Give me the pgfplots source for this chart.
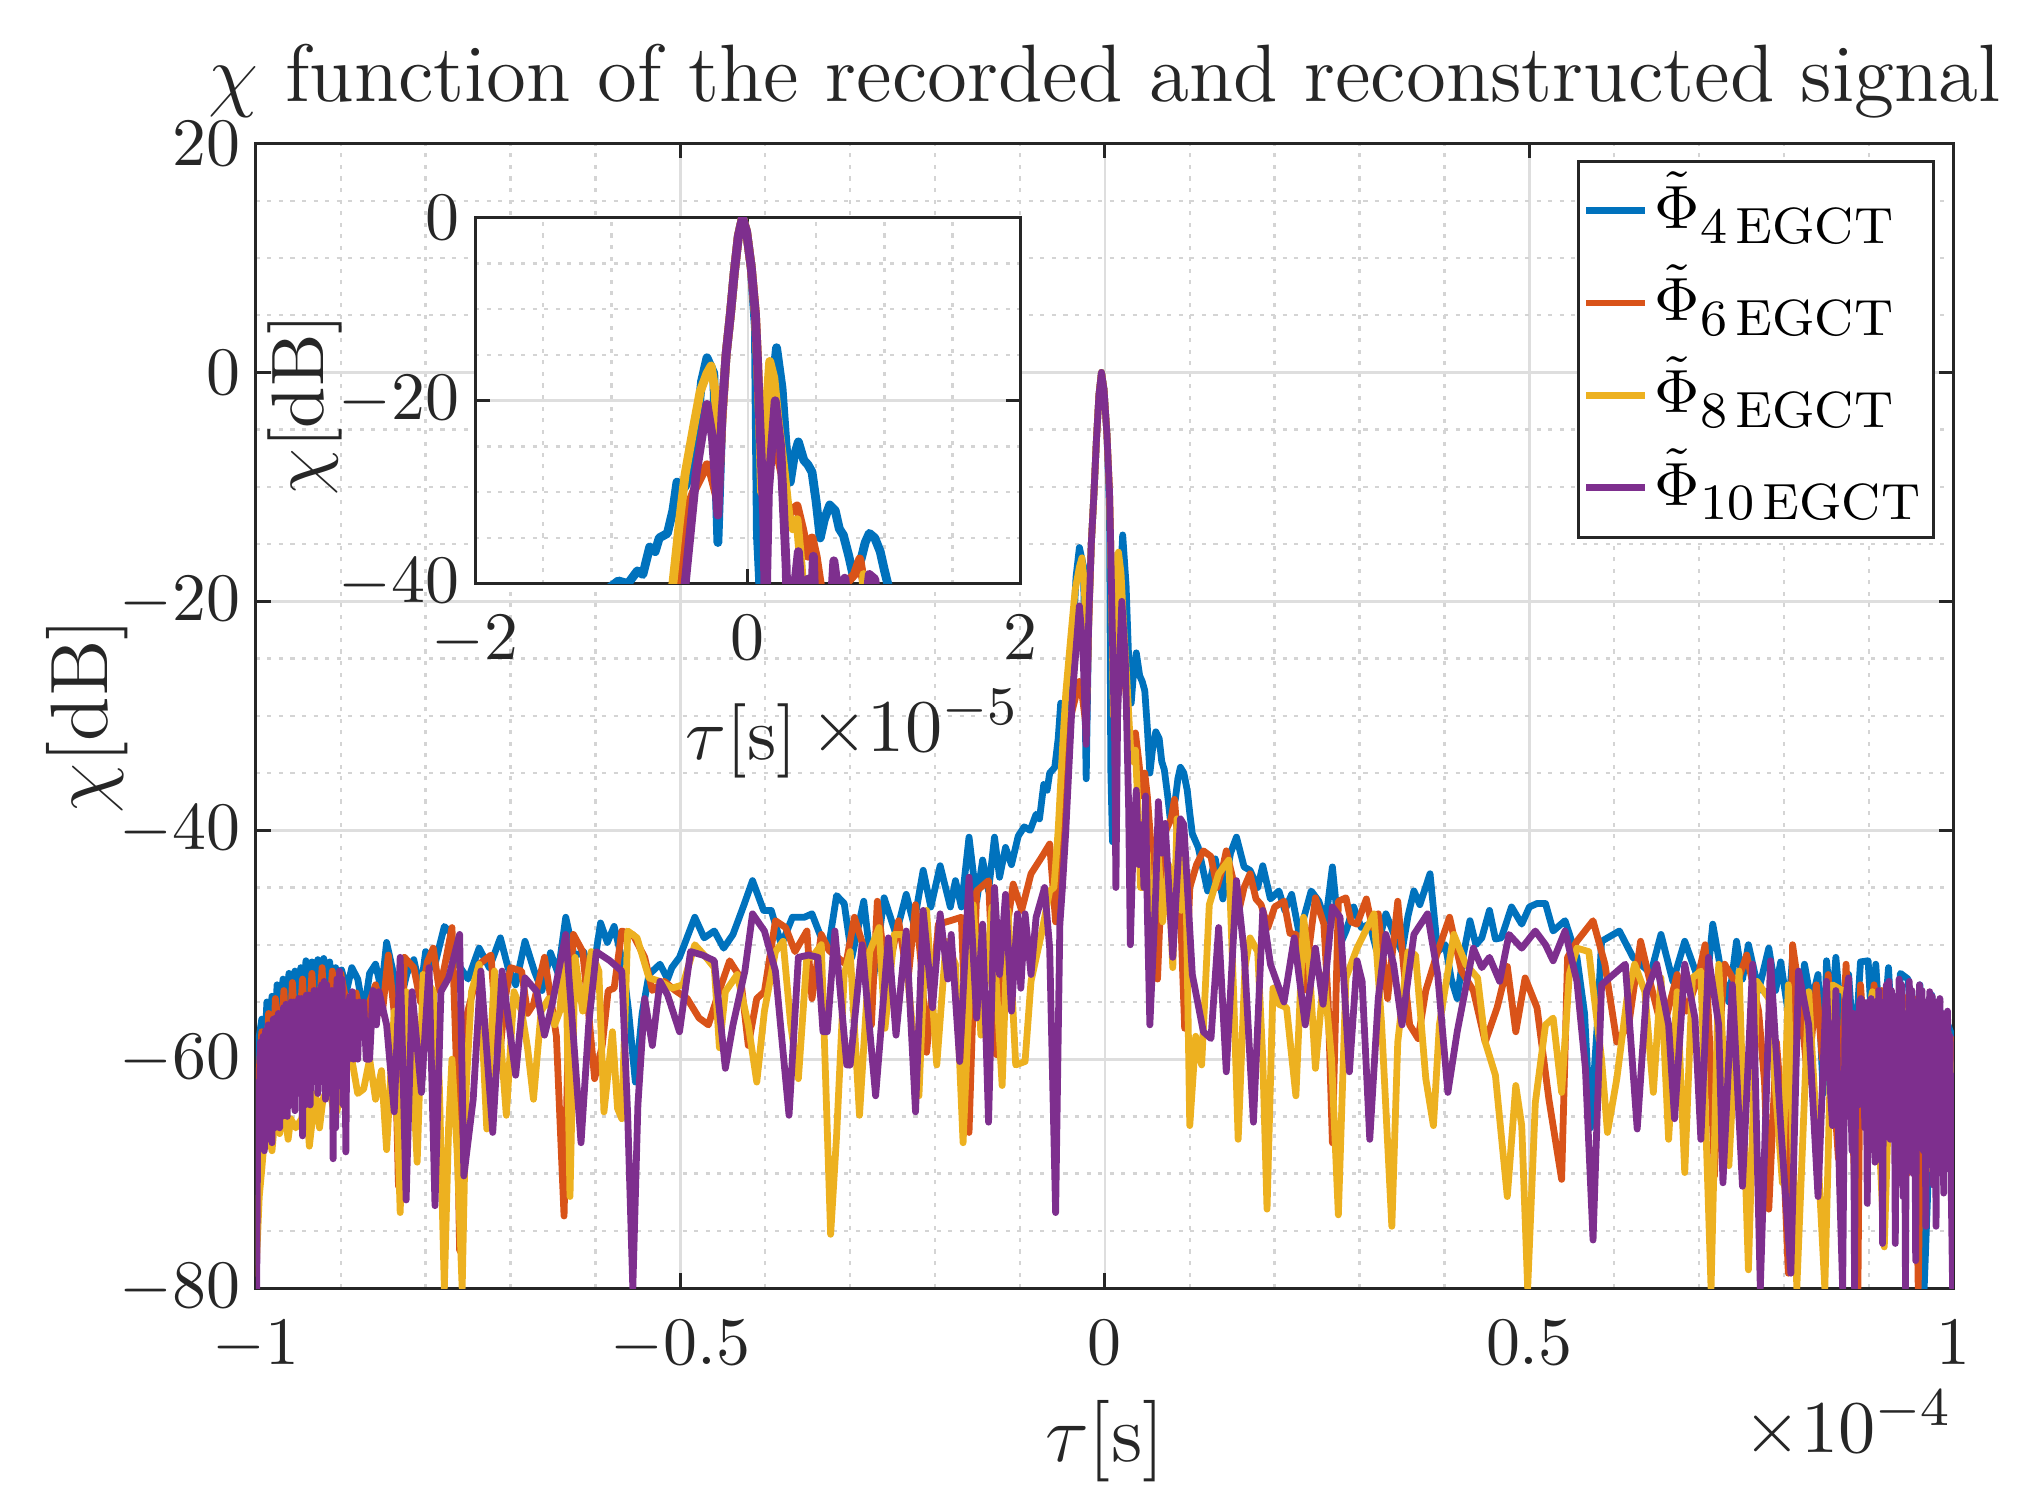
\documentclass[border=0pt]{standalone}
\usepackage{fontspec}
\usepackage{pgfplots}
\usepackage{pgfplotstable}
\pgfplotsset{compat=1.18}
\definecolor{mblue}{rgb}{0,0.447,0.741}
\definecolor{morange}{rgb}{0.850,0.325,0.098}
\definecolor{myellow}{rgb}{0.929,0.694,0.125}
\definecolor{mpurple}{rgb}{0.494,0.184,0.556}
\definecolor{axcol}{gray}{0.15}
\definecolor{gmaj}{gray}{0.87}
\definecolor{gmin}{gray}{0.83}

% x in units of 1e-4 s, y in dB
\pgfplotstableread{
x y
-1.000 -78
-0.998 -74
-0.996 -58
-0.993 -56.5
-0.990 -60
-0.987 -55
-0.984 -58
-0.981 -54.5
-0.978 -58
-0.975 -53.5
-0.972 -57
-0.968 -53
-0.965 -56.5
-0.961 -52.5
-0.958 -56
-0.954 -52.3
-0.951 -56
-0.947 -52
-0.944 -55
-0.941 -51.4
-0.938 -55
-0.934 -51.5
-0.931 -54.5
-0.927 -51.3
-0.924 -54
-0.920 -51.2
-0.917 -54.5
-0.913 -51.5
-0.910 -55
-0.906 -52
-0.903 -55
-0.899 -52.2
-0.893 -54
-0.887 -52
-0.880 -53
-0.873 -56
-0.866 -52.5
-0.859 -51.7
-0.852 -54
-0.846 -49.8
-0.838 -52.5
-0.830 -55
-0.822 -52.5
-0.814 -51.3
-0.806 -54
-0.800 -50.6
-0.790 -52
-0.778 -48.4
-0.770 -49
-0.762 -51.7
-0.750 -53
-0.737 -50.3
-0.725 -52
-0.712 -49.4
-0.703 -52
-0.694 -53.5
-0.683 -49.7
-0.672 -52.3
-0.663 -54
-0.653 -50.7
-0.644 -52.5
-0.635 -47.6
-0.625 -51
-0.614 -50.6
-0.604 -53
-0.594 -48.1
-0.586 -49.8
-0.578 -48.4
-0.568 -51.5
-0.561 -55.8
-0.553 -62
-0.545 -56
-0.537 -52.6
-0.524 -51.7
-0.515 -53
-0.510 -52
-0.501 -51.1
-0.483 -47.6
-0.472 -49.4
-0.460 -48.8
-0.449 -50.3
-0.438 -49.1
-0.425 -46.5
-0.415 -44.4
-0.402 -47
-0.393 -47
-0.381 -50
-0.368 -47.6
-0.354 -47.6
-0.345 -47.3
-0.334 -49.4
-0.325 -50
-0.316 -45.7
-0.307 -46.4
-0.298 -51.1
-0.284 -46.2
-0.273 -53.2
-0.260 -45.9
-0.246 -49.1
-0.234 -45.6
-0.225 -48.2
-0.214 -43.5
-0.205 -46.7
-0.194 -43.1
-0.182 -46.7
-0.176 -44.4
-0.169 -46.7
-0.160 -40.6
-0.151 -46.2
-0.144 -42.6
-0.137 -45.3
-0.130 -40.6
-0.124 -44.1
-0.117 -41.5
-0.110 -43
-0.102 -40.5
-0.095 -39.7
-0.088 -40
-0.081 -38.6
-0.077 -39
-0.072 -36
-0.068 -36.5
-0.065 -35
-0.059 -34.5
-0.055 -32
-0.052 -28.9
-0.048 -29.6
-0.046 -29.4
-0.042 -27.8
-0.038 -24
-0.034 -17.9
-0.030 -15.3
-0.025 -17
-0.0235 -28
-0.022 -35.5
-0.020 -26
-0.019 -21.5
-0.016 -15
-0.0128 -10.5
-0.010 -6
-0.007 -2
-0.004 0
-0.001 -1.5
0.0025 -5.5
0.0055 -12
0.007 -34.7
0.009 -41
0.012 -35
0.016 -21.5
0.021 -14.2
0.025 -18.6
0.028 -25
0.031 -28.9
0.034 -26
0.037 -24.5
0.041 -26.5
0.044 -27
0.047 -27.8
0.050 -31
0.053 -35
0.056 -33
0.060 -31.4
0.064 -32
0.067 -34
0.070 -34.7
0.074 -37
0.077 -39
0.080 -38
0.083 -37.3
0.086 -35.5
0.089 -34.5
0.093 -35
0.097 -36.5
0.100 -38.5
0.103 -40.3
0.110 -41.5
0.121 -45.3
0.130 -42.5
0.139 -46
0.148 -42
0.155 -40.6
0.164 -43.2
0.171 -43.5
0.180 -45
0.186 -43.1
0.195 -46
0.205 -45.3
0.212 -47
0.220 -45.6
0.229 -49.1
0.243 -45.3
0.252 -46.2
0.260 -48
0.268 -43.2
0.277 -50
0.284 -48.8
0.293 -46.7
0.302 -48.5
0.312 -48.2
0.320 -50.5
0.331 -47.3
0.340 -49
0.350 -50.6
0.357 -47.5
0.364 -45.3
0.371 -46.5
0.383 -43.8
0.392 -50.6
0.401 -50
0.408 -53
0.415 -54.7
0.422 -51
0.430 -47.9
0.437 -50
0.444 -49.4
0.453 -47
0.460 -49.5
0.467 -49.4
0.479 -46.7
0.491 -48.2
0.500 -46.7
0.509 -46.4
0.519 -46.4
0.528 -48.8
0.542 -47.9
0.556 -51.1
0.565 -56
0.572 -66
0.580 -57
0.585 -49.7
0.599 -49.1
0.606 -48.8
0.622 -51.1
0.631 -51.7
0.643 -52.5
0.655 -49.1
0.669 -53.2
0.683 -49.7
0.697 -52.6
0.707 -55
0.716 -48.2
0.725 -52
0.735 -55
0.744 -49.7
0.751 -53
0.758 -50
0.770 -54
0.782 -50.3
0.790 -54
0.796 -51.5
0.805 -56
0.810 -51.1
0.818 -58
0.824 -51.7
0.832 -55
0.840 -52.6
0.846 -63
0.850 -51.4
0.856 -56
0.861 -51.1
0.868 -57
0.876 -52.6
0.883 -60
0.890 -51.5
0.899 -51.4
0.904 -58
0.908 -51.7
0.915 -60
0.923 -52
0.930 -62
0.937 -52.5
0.946 -53
0.953 -60
0.960 -53.5
0.965 -80
0.969 -72
0.974 -54.4
0.979 -66
0.984 -55.8
0.988 -64
0.993 -57
0.998 -58
1.000 -57.5
}\tblA

\pgfplotstableread{
x y
-1.000 -79
-0.997 -62
-0.993 -57.6
-0.989 -64
-0.985 -56
-0.981 -63
-0.977 -54.7
-0.972 -61
-0.967 -54
-0.962 -62
-0.957 -53.3
-0.951 -60
-0.945 -53
-0.940 -61
-0.934 -52.5
-0.928 -59
-0.922 -52
-0.916 -60
-0.910 -52.3
-0.904 -58
-0.900 -52.5
-0.891 -56
-0.882 -54.2
-0.873 -57.6
-0.866 -55
-0.859 -53.5
-0.851 -56
-0.844 -50.9
-0.837 -56
-0.832 -71.1
-0.825 -51.1
-0.814 -52
-0.806 -55
-0.798 -51.5
-0.791 -50.3
-0.784 -54
-0.778 -52
-0.769 -48.5
-0.764 -60
-0.760 -76.7
-0.755 -62
-0.751 -56
-0.744 -54
-0.737 -51.7
-0.723 -50.9
-0.714 -60.8
-0.707 -55
-0.700 -52
-0.687 -52.3
-0.680 -56
-0.673 -55.2
-0.660 -51.1
-0.652 -55
-0.646 -58
-0.637 -73.7
-0.631 -55
-0.626 -49.1
-0.615 -50.6
-0.608 -56
-0.601 -61.7
-0.592 -58.8
-0.585 -54
-0.578 -53.8
-0.569 -48.8
-0.556 -49.1
-0.542 -51.1
-0.533 -54
-0.519 -53.2
-0.506 -54
-0.492 -54.7
-0.478 -56.4
-0.467 -57
-0.454 -54
-0.442 -51.4
-0.429 -52.9
-0.420 -58.8
-0.410 -54.7
-0.401 -54.1
-0.388 -47.9
-0.376 -48.5
-0.365 -50.6
-0.351 -48.8
-0.345 -54.7
-0.334 -49.1
-0.325 -50.5
-0.305 -51.7
-0.295 -47.6
-0.285 -50
-0.275 -57
-0.268 -46.2
-0.257 -53.2
-0.243 -47.9
-0.232 -53.2
-0.223 -46.5
-0.216 -52
-0.210 -59.4
-0.196 -48.2
-0.182 -47.9
-0.169 -47.6
-0.160 -66.4
-0.151 -45.3
-0.137 -44.4
-0.128 -59.6
-0.118 -50
-0.108 -44.7
-0.098 -47
-0.087 -43.8
-0.074 -42.3
-0.065 -41.2
-0.058 -48
-0.051 -40
-0.046 -32.5
-0.040 -30
-0.034 -28.2
-0.030 -27
-0.027 -28
-0.022 -31
-0.019 -22
-0.016 -15
-0.0128 -10.5
-0.010 -6
-0.007 -2
-0.004 0
-0.001 -1.5
0.0025 -5.5
0.0055 -10.5
0.007 -15.5
0.009 -24
0.013 -22
0.017 -19.5
0.022 -26
0.025 -28
0.028 -33
0.032 -32
0.036 -31.5
0.040 -34
0.044 -37
0.047 -35
0.050 -37
0.054 -41
0.058 -47
0.062 -53
0.068 -42
0.072 -40
0.078 -39
0.082 -37.3
0.086 -41
0.090 -49
0.094 -57.3
0.100 -45
0.108 -43
0.116 -41.8
0.125 -42.3
0.132 -45
0.139 -43.2
0.143 -41.8
0.150 -44
0.157 -47.3
0.164 -45
0.171 -43.8
0.178 -46
0.184 -46.5
0.192 -48.5
0.200 -46.7
0.211 -46.2
0.218 -49
0.225 -49.1
0.234 -54
0.241 -50
0.248 -45.9
0.258 -48.2
0.263 -55
0.268 -67.3
0.275 -46.2
0.284 -45.9
0.290 -48
0.297 -48.2
0.308 -46
0.315 -48.5
0.322 -47.3
0.333 -54.7
0.345 -46.2
0.352 -52
0.359 -57
0.369 -58.2
0.378 -54
0.392 -50.6
0.406 -47.6
0.420 -52.3
0.434 -54
0.448 -58.5
0.462 -55.5
0.474 -51.9
0.484 -57.6
0.495 -52.9
0.509 -55.5
0.523 -63.5
0.538 -70.5
0.545 -51.1
0.556 -49.7
0.575 -47.9
0.589 -51.7
0.603 -58.5
0.617 -57
0.631 -49.7
0.643 -53.5
0.657 -57.6
0.674 -52.6
0.685 -55.8
0.698 -53
0.707 -50
0.712 -58
0.718 -70.2
0.724 -58
0.730 -51.7
0.744 -53.5
0.756 -50.9
0.770 -55.8
0.777 -62
0.782 -73.1
0.791 -58.5
0.797 -64
0.805 -78.7
0.810 -50
0.819 -54.7
0.828 -62
0.838 -53.5
0.845 -60
0.852 -52.6
0.858 -62
0.864 -68.7
0.873 -51.7
0.880 -64
0.887 -80
0.890 -53.5
0.898 -62
0.906 -53.5
0.911 -64
0.915 -54
0.921 -66
0.928 -54.5
0.934 -62
0.940 -54.5
0.945 -70
0.953 -54.7
0.958 -80
0.963 -56
0.969 -55.3
0.974 -68
0.980 -56.5
0.984 -56.4
0.988 -66
0.993 -57.6
0.997 -64
1.000 -58
}\tblB

\pgfplotstableread{
x y
-1.000 -79
-0.996 -72
-0.993 -69.6
-0.989 -66
-0.986 -65.8
-0.981 -68
-0.977 -64.6
-0.972 -66.5
-0.967 -64
-0.962 -67
-0.959 -65.2
-0.953 -66
-0.946 -65.2
-0.941 -63
-0.937 -67.6
-0.930 -63
-0.925 -66
-0.921 -63.5
-0.914 -62.3
-0.907 -65
-0.900 -63.5
-0.894 -61
-0.887 -60
-0.880 -63
-0.873 -62.6
-0.866 -60
-0.859 -63.5
-0.852 -61
-0.846 -67.9
-0.837 -55.8
-0.830 -73.4
-0.823 -54.1
-0.816 -60
-0.810 -69
-0.803 -52.6
-0.791 -54.1
-0.784 -62
-0.778 -80
-0.773 -66
-0.769 -60
-0.763 -68
-0.757 -80
-0.752 -62
-0.746 -54.1
-0.737 -51.7
-0.728 -66.1
-0.719 -52.3
-0.712 -58
-0.705 -64.9
-0.696 -54.1
-0.687 -55.8
-0.680 -59
-0.673 -63.5
-0.664 -55.8
-0.655 -54.7
-0.648 -57
-0.642 -55.8
-0.635 -50
-0.630 -72
-0.624 -51.1
-0.615 -55.8
-0.605 -50.6
-0.596 -52.3
-0.590 -64.6
-0.580 -57.6
-0.574 -64.3
-0.569 -65.2
-0.562 -48.8
-0.551 -49.4
-0.537 -52.9
-0.524 -53.2
-0.510 -53.8
-0.497 -53.5
-0.483 -50
-0.472 -50.9
-0.460 -52
-0.454 -59
-0.447 -54.1
-0.433 -52.6
-0.420 -57
-0.410 -62
-0.401 -55.8
-0.388 -50.6
-0.379 -49.7
-0.370 -57
-0.361 -61.7
-0.351 -51.1
-0.345 -51.1
-0.334 -50
-0.323 -75.3
-0.316 -66.7
-0.307 -52.6
-0.300 -50.6
-0.289 -64.9
-0.277 -50.6
-0.266 -48.5
-0.259 -57.3
-0.248 -49.1
-0.237 -49.1
-0.219 -63.2
-0.210 -47
-0.198 -60.5
-0.187 -49.7
-0.176 -51.7
-0.167 -67.3
-0.155 -46.5
-0.146 -57.9
-0.133 -46.7
-0.121 -62.3
-0.114 -47
-0.105 -60.5
-0.094 -60.2
-0.087 -53.2
-0.074 -48.8
-0.065 -45.3
-0.060 -45
-0.055 -40
-0.050 -33
-0.046 -28
-0.040 -23
-0.035 -19
-0.030 -17
-0.027 -16.2
-0.024 -19
-0.021 -28
-0.019 -21.5
-0.016 -15
-0.0128 -10.5
-0.010 -6
-0.007 -2
-0.004 0
-0.001 -1.5
0.0025 -5.5
0.0055 -10.5
0.007 -15.5
0.0085 -21.5
0.010 -30
0.013 -22
0.016 -15.7
0.019 -17.5
0.022 -22
0.026 -27
0.030 -32.5
0.033 -34
0.036 -33
0.039 -38
0.042 -45
0.045 -45
0.050 -42
0.055 -50
0.062 -41
0.068 -48
0.075 -43
0.080 -52
0.085 -39
0.090 -47
0.095 -42
0.100 -65.8
0.107 -58
0.114 -60.5
0.123 -46.5
0.134 -43.8
0.146 -42.6
0.152 -55
0.157 -67
0.165 -52
0.171 -49.4
0.180 -50.6
0.186 -60
0.191 -73.1
0.198 -53.8
0.205 -55.2
0.214 -55.5
0.225 -63.2
0.234 -47.6
0.241 -52
0.248 -60.8
0.258 -52.6
0.267 -60
0.275 -73.6
0.284 -52.9
0.297 -50.3
0.311 -48.2
0.317 -47.3
0.326 -57
0.338 -74.6
0.345 -58.5
0.357 -50.6
0.366 -50.9
0.378 -61.7
0.387 -65.8
0.394 -57
0.411 -49.1
0.425 -51.7
0.439 -52.9
0.448 -58.5
0.460 -61.4
0.474 -72
0.484 -62.3
0.491 -65.8
0.498 -80
0.507 -63.8
0.519 -57
0.528 -56.4
0.538 -62.9
0.547 -52.6
0.556 -50.3
0.570 -50.6
0.585 -60
0.592 -66.4
0.603 -61.7
0.615 -54.7
0.624 -51.7
0.636 -54.1
0.646 -62.9
0.655 -52.9
0.664 -67
0.674 -54.1
0.683 -69.9
0.692 -52.9
0.702 -52.3
0.714 -80
0.723 -51.7
0.735 -69.3
0.747 -52.3
0.758 -78.4
0.768 -53.2
0.782 -54.7
0.798 -70.8
0.805 -53.5
0.815 -80
0.829 -54.1
0.838 -65.8
0.848 -80
0.857 -53.5
0.871 -54.1
0.885 -62.9
0.904 -54.1
0.918 -76.4
0.927 -54.7
0.941 -55.8
0.960 -60
0.969 -69.6
0.979 -68.7
0.988 -62.9
0.995 -60
1.000 -62
}\tblC

\pgfplotstableread{
x y
-1.000 -80
-0.999 -80
-0.9975 -62
-0.996 -66
-0.9945 -58.5
-0.993 -67
-0.9915 -58
-0.990 -68
-0.9885 -57.5
-0.987 -67
-0.9855 -57
-0.984 -66
-0.9825 -57
-0.981 -67.3
-0.9795 -56.5
-0.978 -66
-0.9765 -56.4
-0.975 -64
-0.9735 -56
-0.972 -66
-0.9705 -56
-0.969 -65
-0.9675 -55.5
-0.966 -63
-0.9645 -55.2
-0.963 -65
-0.9615 -55.5
-0.960 -64
-0.9585 -55
-0.957 -62
-0.9555 -55
-0.954 -64.5
-0.9525 -55
-0.951 -63
-0.9495 -54.7
-0.948 -62
-0.9465 -54.7
-0.945 -66.7
-0.9435 -55
-0.942 -64
-0.9405 -54.4
-0.939 -61
-0.9375 -54.4
-0.936 -64
-0.9345 -54.5
-0.933 -62
-0.9315 -54
-0.930 -60
-0.9285 -54
-0.927 -63
-0.9255 -54
-0.924 -61
-0.9225 -53.5
-0.921 -62
-0.9195 -53.2
-0.918 -63.5
-0.9165 -53.5
-0.915 -60
-0.9135 -54
-0.912 -62
-0.9105 -54
-0.909 -68.7
-0.9075 -55
-0.906 -66
-0.9045 -53
-0.903 -60
-0.9015 -52.3
-0.900 -61
-0.8985 -53
-0.897 -64
-0.8955 -55
-0.894 -68.1
-0.8925 -55
-0.891 -60
-0.8895 -54.5
-0.888 -59
-0.8865 -54.1
-0.885 -60
-0.8835 -55
-0.882 -59
-0.880 -60
-0.878 -55
-0.876 -58
-0.873 -55
-0.870 -60
-0.866 -60
-0.862 -54
-0.858 -57
-0.855 -54.1
-0.846 -57
-0.837 -64.6
-0.830 -51.1
-0.823 -72.3
-0.816 -54.1
-0.805 -62.9
-0.796 -52
-0.789 -72.8
-0.782 -54.1
-0.773 -52.9
-0.760 -49.1
-0.755 -70.2
-0.744 -63.5
-0.735 -52.3
-0.721 -66.4
-0.710 -52.3
-0.694 -61.4
-0.683 -52.9
-0.669 -54.1
-0.660 -57.9
-0.651 -55.2
-0.635 -49.1
-0.626 -58
-0.617 -67.3
-0.608 -57
-0.599 -50.6
-0.583 -51.4
-0.569 -52.3
-0.562 -65
-0.556 -80
-0.550 -64
-0.542 -54.7
-0.533 -58.8
-0.524 -53.2
-0.515 -54.4
-0.501 -57.6
-0.488 -50.6
-0.474 -50.9
-0.460 -51.4
-0.447 -60.8
-0.438 -57
-0.424 -52.3
-0.415 -47.3
-0.401 -48.8
-0.388 -52.3
-0.372 -64.9
-0.361 -51.1
-0.349 -50.9
-0.338 -51.1
-0.332 -57.6
-0.327 -57.6
-0.318 -48.8
-0.304 -60.5
-0.300 -60.5
-0.286 -50
-0.270 -63.2
-0.255 -49.4
-0.246 -57.9
-0.234 -48.8
-0.223 -64.6
-0.214 -47
-0.203 -55.5
-0.194 -47.3
-0.185 -53
-0.181 -49.1
-0.171 -60.2
-0.160 -44.1
-0.151 -56.4
-0.144 -48.2
-0.137 -65.5
-0.130 -45
-0.124 -52.6
-0.117 -45.6
-0.110 -55.8
-0.103 -47.3
-0.099 -53.8
-0.094 -47.3
-0.087 -52.6
-0.081 -47.6
-0.071 -45
-0.065 -50.3
-0.058 -73.4
-0.053 -48.2
-0.050 -45
-0.046 -40
-0.038 -28
-0.030 -20.4
-0.026 -24
-0.022 -32.5
-0.019 -21.5
-0.016 -15
-0.0128 -10.5
-0.010 -6
-0.007 -2
-0.004 0
-0.001 -1.5
0.0025 -5.5
0.0055 -10.5
0.007 -15.5
0.0085 -21.5
0.010 -27
0.0116 -32.5
0.013 -45
0.015 -30
0.020 -20
0.024 -25
0.028 -38
0.030 -50
0.033 -42
0.037 -36.5
0.040 -43
0.044 -39.5
0.046 -45
0.048 -37
0.050 -47
0.053 -57
0.060 -45.3
0.063 -37.5
0.067 -42
0.071 -39.4
0.080 -51.1
0.089 -39
0.093 -39.5
0.103 -52.6
0.116 -57.6
0.125 -58.2
0.134 -48.5
0.143 -61.1
0.155 -44.4
0.164 -50.6
0.175 -65.5
0.186 -47
0.195 -51.7
0.211 -55
0.223 -49.4
0.236 -57
0.248 -50.3
0.257 -55.2
0.268 -46.7
0.277 -47.6
0.288 -61.1
0.297 -51.4
0.303 -53.2
0.312 -67
0.322 -54.7
0.331 -49.1
0.340 -51.7
0.350 -57
0.364 -49.1
0.380 -47.3
0.392 -52.6
0.404 -62.9
0.415 -57.6
0.434 -50.3
0.444 -52
0.453 -51.1
0.465 -53.2
0.476 -49.1
0.491 -50.3
0.507 -48.8
0.519 -50
0.528 -51.4
0.542 -48.8
0.556 -53.2
0.566 -60.8
0.575 -75.8
0.585 -53.5
0.599 -52.6
0.613 -51.7
0.627 -66.1
0.638 -54.1
0.650 -51.7
0.664 -57
0.671 -65.2
0.683 -51.7
0.695 -56.4
0.702 -67
0.711 -51.1
0.723 -57
0.728 -70.8
0.739 -53.5
0.751 -71.1
0.763 -51.7
0.772 -80
0.784 -51.4
0.796 -65.8
0.808 -78.7
0.817 -52.3
0.829 -57
0.840 -72
0.850 -53.2
0.854 -62
0.857 -65.8
0.861 -54
0.865 -70
0.869 -80
0.872 -55
0.876 -52.9
0.880 -68
0.8815 -56
0.883 -80
0.8845 -58
0.886 -56
0.8875 -64
0.889 -55
0.8905 -54.7
0.892 -62
0.8935 -55
0.895 -66
0.8965 -56
0.898 -72.6
0.8995 -55
0.901 -62
0.9025 -54.7
0.904 -66
0.9055 -55
0.907 -69
0.9085 -55.5
0.910 -62
0.9115 -54
0.913 -65
0.9145 -55
0.916 -76.1
0.9175 -56
0.919 -66
0.9205 -53.5
0.922 -64
0.9235 -53.2
0.925 -67
0.9265 -54
0.928 -62
0.9295 -54.5
0.931 -76.1
0.9325 -55
0.934 -66
0.9355 -53
0.937 -64
0.9385 -53.5
0.940 -72
0.9415 -56
0.943 -80
0.9445 -56
0.946 -66
0.9475 -53.2
0.949 -64
0.9505 -54
0.952 -70
0.9535 -55
0.955 -77.6
0.9565 -55
0.958 -66
0.9595 -53.5
0.961 -64
0.9625 -54
0.964 -68
0.9655 -55
0.967 -74.6
0.9685 -56
0.970 -66
0.9715 -54.1
0.973 -68
0.9745 -54.5
0.976 -71
0.9775 -55
0.979 -74.6
0.9805 -56
0.982 -68
0.9835 -54.7
0.985 -68
0.9865 -56
0.988 -71.7
0.9895 -57
0.991 -68
0.9925 -55.8
0.994 -66
0.9955 -58
0.997 -72
0.9985 -80
1.000 -80
}\tblD

\pgfplotsset{
  mstyle/.style={
    scale only axis,
    axis line style={axcol, line width=0.45pt},
    tick style={axcol, line width=0.45pt},
    major tick length=2.2pt,
    minor tick length=0pt,
    tick align=inside,
    grid=both,
    major grid style={gmaj, line width=0.4pt},
    minor grid style={gmin, line width=0.35pt, dash pattern=on 0.6pt off 1.1pt},
    tick label style={font=\fontsize{10}{12}\selectfont, text=axcol},
    label style={font=\fontsize{12}{14}\selectfont, text=axcol},
    scaled ticks=false,
    xticklabel style={anchor=base, yshift=-11.2pt},
    yticklabel style={anchor=east, inner xsep=0pt, xshift=-2.1pt},
    every axis plot/.append style={line join=round},
  },
  legend image code/.code={\draw[#1, line width=1pt] (0pt,0pt) -- (8.7pt,0pt);},
}

\newcommand{\sub}[1]{\mbox{\fontsize{7.5}{9}\selectfont #1}}

\begin{document}
\begin{tikzpicture}
\path[use as bounding box] (-37.7pt,-32.9pt) rectangle (262.3pt,189.8pt);
\begin{axis}[mstyle,
  at={(0pt,0pt)}, anchor=south west,
  width=250.2pt, height=168.65pt,
  xmin=-1, xmax=1, ymin=-80, ymax=20,
  xtick={-1,-0.5,0,0.5,1},
  ytick={-80,-60,-40,-20,0,20},
  minor x tick num=4, minor y tick num=3,
  xlabel={$\tau[\mathrm{s}]$},
  ylabel={$\chi[\mathrm{dB}]$},
  xlabel style={at={(axis description cs:0.5,-0.1518)}, anchor=base},
  ylabel style={at={(axis description cs:-0.0875,0.5)}, anchor=base},
  legend style={at={(axis description cs:0.989,0.986)}, anchor=north east,
    draw=axcol, line width=0.45pt, fill=white,
    font=\fontsize{9}{11}\selectfont, text=black,
    inner xsep=0.6pt, inner ysep=0.5pt, row sep=0pt,
    nodes={inner xsep=0.9pt, inner ysep=0pt, text height=9.4pt, text depth=4.2pt}},
  legend cell align=left,
  extra description/.code={
    \node[anchor=base east, font=\fontsize{10.95}{13}\selectfont, text=axcol, inner sep=0pt] at (1,-0.1435) {$\times10^{-4}$};
    \node[anchor=base, font=\fontsize{12}{14}\selectfont, text=axcol, inner sep=0pt] at (0.5,1.0368) {$\chi$ function of the recorded and reconstructed signal};
  },
]
\addplot[mblue, line width=1pt] table[x index=0, y index=1] {\tblA};
\addlegendentry{$\tilde{\Phi}_{\sub{4\,EGCT}}$}
\addplot[morange, line width=1pt] table[x index=0, y index=1] {\tblB};
\addlegendentry{$\tilde{\Phi}_{\sub{6\,EGCT}}$}
\addplot[myellow, line width=1pt] table[x index=0, y index=1] {\tblC};
\addlegendentry{$\tilde{\Phi}_{\sub{8\,EGCT}}$}
\addplot[mpurple, line width=1pt] table[x index=0, y index=1] {\tblD};
\addlegendentry{$\tilde{\Phi}_{\sub{10\,EGCT}}$}
\end{axis}

\begin{axis}[mstyle,
  at={(32.3pt,103.8pt)}, anchor=south west,
  width=80.4pt, height=53.9pt,
  axis background/.style={fill=white},
  xmin=-2, xmax=2, ymin=-40, ymax=0,
  xtick={-2,0,2}, ytick={-40,-20,0},
  minor x tick num=3, minor y tick num=3,
  label style={font=\fontsize{10.95}{13}\selectfont, text=axcol},
  xlabel={$\tau[\mathrm{s}]$},
  ylabel={$\chi[\mathrm{dB}]$},
  xlabel style={at={(axis description cs:0.488,-0.4805)}, anchor=base},
  ylabel style={at={(axis description cs:-0.277,0.49)}, anchor=base},
  extra description/.code={
    \node[anchor=base east, font=\fontsize{10.95}{13}\selectfont, text=axcol, inner sep=0pt] at (1,-0.46) {$\times10^{-5}$};
  },
]
\addplot[mblue, line width=1.3pt] table[x expr=\thisrowno{0}*10, y index=1] {\tblA};
\addplot[morange, line width=1.3pt] table[x expr=\thisrowno{0}*10, y index=1] {\tblB};
\addplot[myellow, line width=1.3pt] table[x expr=\thisrowno{0}*10, y index=1] {\tblC};
\addplot[mpurple, line width=1.3pt] table[x expr=\thisrowno{0}*10, y index=1] {\tblD};
\end{axis}
\end{tikzpicture}
\end{document}
